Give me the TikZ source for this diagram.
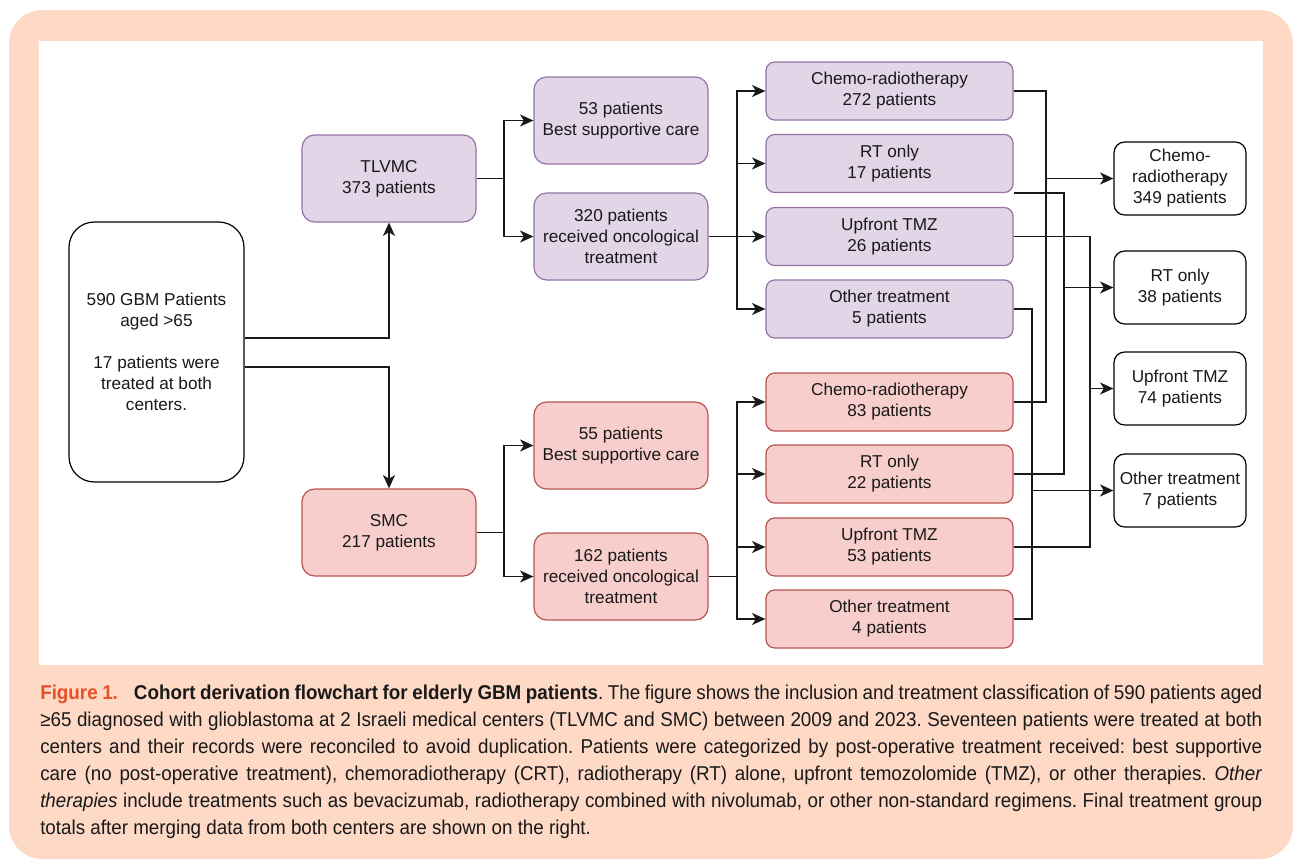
\documentclass[tikz,border=0pt]{standalone}
\usepackage{fontspec}
\setmainfont{Liberation Sans}
\newfontfamily\capfont[FakeStretch=0.94]{Liberation Sans}
\usetikzlibrary{arrows.meta}
\definecolor{peach}{HTML}{FDD9C6}
\definecolor{purfill}{HTML}{E1D5E7}
\definecolor{purline}{HTML}{9673A6}
\definecolor{redfill}{HTML}{F8CECC}
\definecolor{redline}{HTML}{B85450}
\definecolor{figred}{RGB}{232,80,40}
\frenchspacing
\begin{document}
\begin{tikzpicture}[x=0.75pt,y=-0.75pt,
  boxtext/.style={align=center,inner sep=0pt,font=\fontsize{12.9}{15.75}\selectfont,line width=0.9pt,text=black!90},
  mainbox/.style={boxtext,draw=black,fill=white,rounded corners=19pt,minimum width=131.25pt,minimum height=195pt},
  midbox/.style={boxtext,rounded corners=9.5pt,minimum width=130.5pt,minimum height=65.25pt},
  treatbox/.style={boxtext,rounded corners=6.5pt,minimum width=185.25pt,minimum height=43.5pt},
  mergebox/.style={boxtext,draw=black,fill=white,rounded corners=8pt,minimum width=99pt,minimum height=54.75pt},
  pur/.style={draw=purline,fill=purfill},
  red/.style={draw=redline,fill=redfill},
  conn/.style={line width=1.15pt,black!90},
  arr/.style={conn,-{Stealth[length=10pt,width=9pt,inset=2.8pt]}}]
\useasboundingbox (0,0) rectangle (1293,860);
% background frame
\fill[peach,rounded corners=25pt] (9,10) rectangle (1293,859);
\fill[white] (39,41) rectangle (1263,665);

% nodes
\node[mainbox] (main) at (156.5,352) {590 GBM Patients\\aged >65\\[15.75pt]17 patients were\\treated at both\\centers.};
\node[midbox,pur] (tl) at (389,178.5) {TLVMC\\373 patients};
\node[midbox,red] (smc) at (389,532.5) {SMC\\217 patients};
\node[midbox,pur] (bsc1) at (621,120.5) {53 patients\\Best supportive care};
\node[midbox,pur] (onc1) at (621,236.5) {320 patients\\received oncological\\treatment};
\node[midbox,red] (bsc2) at (621,445.5) {55 patients\\Best supportive care};
\node[midbox,red] (onc2) at (621,576.5) {162 patients\\received oncological\\treatment};

\node[treatbox,pur] (t1c) at (889.5,91) {Chemo-radiotherapy\\272 patients};
\node[treatbox,pur] (t1r) at (889.5,163.5) {RT only\\17 patients};
\node[treatbox,pur] (t1u) at (889.5,236.5) {Upfront TMZ\\26 patients};
\node[treatbox,pur] (t1o) at (889.5,309) {Other treatment\\5 patients};
\node[treatbox,red] (t2c) at (889.5,402) {Chemo-radiotherapy\\83 patients};
\node[treatbox,red] (t2r) at (889.5,474) {RT only\\22 patients};
\node[treatbox,red] (t2u) at (889.5,547) {Upfront TMZ\\53 patients};
\node[treatbox,red] (t2o) at (889.5,619) {Other treatment\\4 patients};

\node[mergebox] (mchemo) at (1180,178.5) {Chemo-\\radiotherapy\\349 patients};
\node[mergebox] (mrt) at (1180,287.5) {RT only\\38 patients};
\node[mergebox] (mup) at (1180,388.5) {Upfront TMZ\\74 patients};
\node[mergebox] (moth) at (1180,490.5) {Other treatment\\7 patients};

% junction coordinates
\coordinate (j1) at (389,338);
\coordinate (j2) at (389,367);
\coordinate (v1) at (504,178.5);
\coordinate (v2) at (737,236.5);
\coordinate (v3) at (504,532.5);
\coordinate (v4) at (737,576.5);
\coordinate (mc) at (1046,178.5);
\coordinate (mr) at (1064,287.5);
\coordinate (mu) at (1090,388.5);
\coordinate (mo) at (1032,490.5);

% connectors
\draw[arr] (main.east |- j1) -| (tl.south);
\draw[arr] (main.east |- j2) -| (smc.north);

\draw[conn] (tl.east) -- (v1);
\draw[arr] (v1) |- (bsc1.west);
\draw[arr] (v1) |- (onc1.west);
\draw[conn] (smc.east) -- (v3);
\draw[arr] (v3) |- (bsc2.west);
\draw[arr] (v3) |- (onc2.west);

\draw[arr] (onc1.east) -- (t1u.west);
\draw[arr] (v2) |- (t1c.west);
\draw[arr] (v2) |- (t1r.west);
\draw[arr] (v2) |- (t1o.west);
\draw[conn] (onc2.east) -- (v4);
\draw[arr] (v4) |- (t2c.west);
\draw[arr] (v4) |- (t2r.west);
\draw[arr] (v4) |- (t2u.west);
\draw[arr] (v4) |- (t2o.west);

\draw[conn] (t1c.east) -| (mc);
\draw[conn] (t2c.east) -| (mc);
\draw[arr] (mc) -- (mchemo.west);
\draw[conn] (t1r.south east) -| (mr);
\draw[conn] (t2r.east) -| (mr);
\draw[arr] (mr) -- (mrt.west);
\draw[conn] (t1u.east) -| (mu);
\draw[conn] (t2u.east) -| (mu);
\draw[arr] (mu) -- (mup.west);
\draw[conn] (t1o.east) -| (mo);
\draw[conn] (t2o.east) -| (mo);
\draw[arr] (mo) -- (moth.west);

% caption
\node[anchor=north west,inner sep=0pt,align=left,font=\capfont\fontsize{15}{20.25}\selectfont,text=black!90] (cap) at (40,685)
{\makebox[916.5pt][s]{\textcolor{figred}{\textbf{Figure 1.}}\hspace{12pt}\textbf{Cohort derivation flowchart for elderly GBM patients}. The figure shows the inclusion and treatment classification of 590 patients aged}\\
\makebox[916.5pt][s]{≥65 diagnosed with glioblastoma at 2 Israeli medical centers (TLVMC and SMC) between 2009 and 2023. Seventeen patients were treated at both}\\
\makebox[916.5pt][s]{centers and their records were reconciled to avoid duplication. Patients were categorized by post-operative treatment received: best supportive}\\
\makebox[916.5pt][s]{care (no post-operative treatment), chemoradiotherapy (CRT), radiotherapy (RT) alone, upfront temozolomide (TMZ), or other therapies. \textit{Other}}\\
\makebox[916.5pt][s]{\textit{therapies} include treatments such as bevacizumab, radiotherapy combined with nivolumab, or other non-standard regimens. Final treatment group}\\
totals after merging data from both centers are shown on the right.};
\end{tikzpicture}
\end{document}
